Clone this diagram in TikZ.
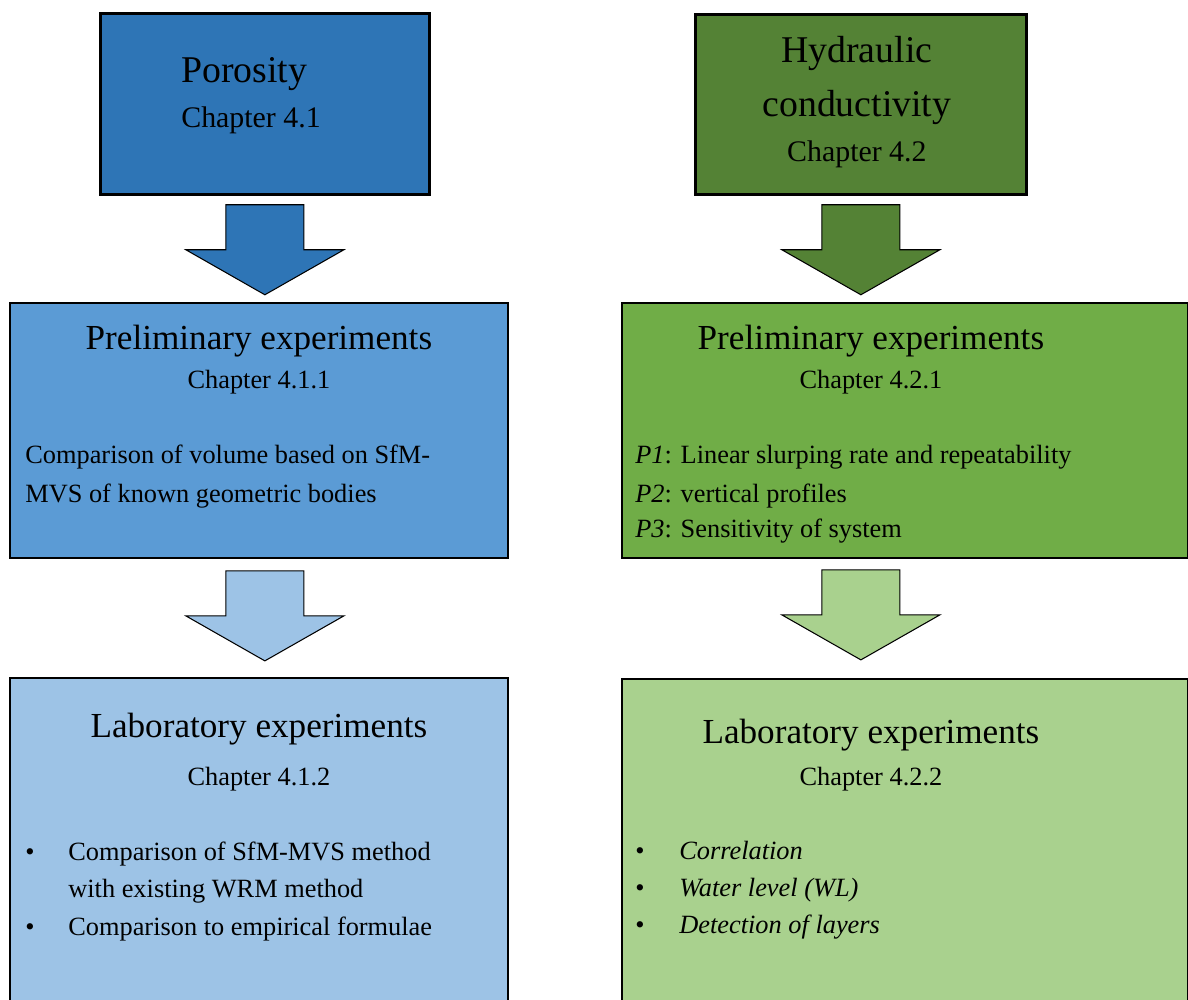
\documentclass[tikz,border=0pt]{standalone}
\usepackage{fontspec}
\setmainfont{Liberation Serif}
\usetikzlibrary{calc, positioning}

\definecolor{blueA}{HTML}{2E75B6}
\definecolor{blueB}{HTML}{5B9BD5}
\definecolor{blueC}{HTML}{9DC3E6}
\definecolor{greenA}{HTML}{548235}
\definecolor{greenB}{HTML}{70AD47}
\definecolor{greenC}{HTML}{A9D18E}

% block arrow pointing down, #1 = top centre, #2 = fill
\newcommand{\blockarrow}[2]{%
  \draw[arrowbox, fill=#2] (#1) ++(-39,0) -- ++(78,0) -- ++(0,45) -- ++(40,0)
    -- ++(-79,45) -- ++(-79,-45) -- ++(40,0) -- cycle;}

\begin{document}
\begin{tikzpicture}[x=0.02cm, y=-0.02cm,
    box/.style={draw=black, rectangle, anchor=north west, inner sep=0pt},
    topbox/.style={box, line width=1.6pt},
    midbox/.style={box, line width=1.1pt},
    arrowbox/.style={draw=black, line width=0.6pt, line join=miter},
    txt/.style={inner sep=0pt, text=black},
    bigtitle/.style={txt, font=\fontsize{21.5}{26}\selectfont},
    title/.style={txt, font=\fontsize{20}{24}\selectfont},
    chaptop/.style={txt, font=\fontsize{17}{20}\selectfont},
    chap/.style={txt, font=\fontsize{15}{18}\selectfont},
    body/.style={txt, font=\fontsize{15}{18}\selectfont}]

    \useasboundingbox (0,0) rectangle (1188,1000);
    \clip (0,0) rectangle (1188,1000);

    % boxes
    \node[topbox, fill=blueA, minimum width=6.58cm, minimum height=3.62cm] (por) at (99,12) {};
    \node[topbox, fill=greenA, minimum width=6.62cm, minimum height=3.60cm] (hyd) at (694,13) {};
    \node[midbox, fill=blueB, minimum width=9.96cm, minimum height=5.10cm] (prelA) at (9,302) {};
    \node[midbox, fill=greenB, minimum width=11.32cm, minimum height=5.10cm] (prelB) at (621,302) {};
    \node[midbox, fill=blueC, minimum width=9.96cm, minimum height=6.90cm] (labA) at (9,677) {};
    \node[midbox, fill=greenC, minimum width=11.32cm, minimum height=6.90cm] (labB) at (621,678) {};

    % arrows
    \coordinate (arrA) at ($(por.south)+(0,9)$);
    \coordinate (arrB) at ($(hyd.south)+(0,9)$);
    \coordinate (arrC) at ($(por.south |- prelA.south)+(0,12)$);
    \coordinate (arrD) at ($(hyd.south |- prelB.south)+(0,11)$);
    \blockarrow{arrA}{blueA}
    \blockarrow{arrB}{greenA}
    \blockarrow{arrC}{blueC}
    \blockarrow{arrD}{greenC}

    % porosity
    \node[bigtitle, anchor=base west] (porT) at ($(por.north west)+(82,71)$) {Porosity};
    \node[chaptop, anchor=base west] (porC) at ($(por.north west)+(82,116)$) {Chapter 4.1};

    % hydraulic conductivity
    \node[bigtitle, anchor=base] (hydT1) at ($(hyd.north)+(-4,50)$) {Hydraulic};
    \node[bigtitle, anchor=base] (hydT2) at ($(hyd.north)+(-4,104)$) {conductivity};
    \node[chaptop, anchor=base] (hydC) at ($(hyd.north)+(-4,149)$) {Chapter 4.2};

    % preliminary, left
    \node[title, anchor=base] (prelAT) at ($(prelA.north)+(0,48)$) {Preliminary experiments};
    \node[chap, anchor=base] (prelAC) at ($(prelA.north)+(0,87)$) {Chapter 4.1.1};
    \node[body, anchor=base west] (prelA1) at ($(prelA.north west)+(16,162)$) {Comparison of volume based on SfM-};
    \node[body, anchor=base west] (prelA2) at ($(prelA.north west)+(16,200)$) {MVS of known geometric bodies};

    % preliminary, right
    \node[title, anchor=base] (prelBT) at ($(prelB.north)+(-34,48)$) {Preliminary experiments};
    \node[chap, anchor=base] (prelBC) at ($(prelB.north)+(-34,87)$) {Chapter 4.2.1};
    \node[body, anchor=base west] (prelB1) at ($(prelB.north west)+(14,162)$) {\textit{P1}: Linear slurping rate and repeatability};
    \node[body, anchor=base west] (prelB2) at ($(prelB.north west)+(14,200)$) {\textit{P2}: vertical profiles};
    \node[body, anchor=base west] (prelB3) at ($(prelB.north west)+(14,236)$) {\textit{P3}: Sensitivity of system};

    % laboratory, left
    \node[title, anchor=base] (labAT) at ($(labA.north)+(0,60)$) {Laboratory experiments};
    \node[chap, anchor=base] (labAC) at ($(labA.north)+(0,108)$) {Chapter 4.1.2};
    \foreach \y/\n in {183/1, 258/3}
      \node[body, anchor=base] (labAb\n) at ($(labA.north west)+(21,\y)$) {\textbullet};
    \node[body, anchor=base west] (labA1) at ($(labA.north west)+(59,183)$) {Comparison of SfM-MVS method};
    \node[body, anchor=base west] (labA2) at ($(labA.north west)+(59,220)$) {with existing WRM method};
    \node[body, anchor=base west] (labA3) at ($(labA.north west)+(59,258)$) {Comparison to empirical formulae};

    % laboratory, right
    \node[title, anchor=base] (labBT) at ($(labB.north)+(-34,65)$) {Laboratory experiments};
    \node[chap, anchor=base] (labBC) at ($(labB.north)+(-34,107)$) {Chapter 4.2.2};
    \foreach \y/\n/\t in {181/1/Correlation, 218/2/Water level (WL), 255/3/Detection of layers} {
      \node[body, anchor=base] (labBb\n) at ($(labB.north west)+(19,\y)$) {\textbullet};
      \node[body, anchor=base west] (labB\n) at ($(labB.north west)+(58,\y)$) {\textit{\t}};
    }
\end{tikzpicture}
\end{document}
